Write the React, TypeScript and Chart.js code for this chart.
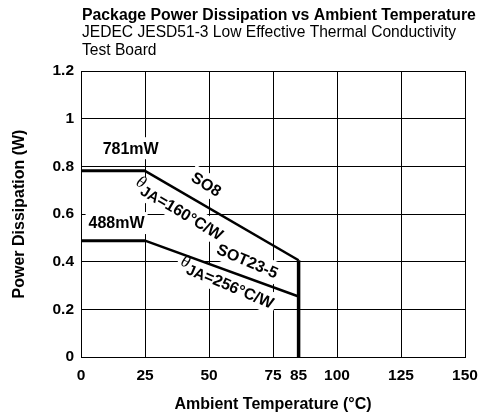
import React, { useEffect, useRef } from 'react';
import { Chart, registerables } from 'chart.js';

Chart.register(...registerables);

// ---- data ----
const xTickValues = [0, 25, 50, 75, 85, 100, 125, 150];
const so8Temps = [0, 25, 85, 85];
const so8Power = [0.781, 0.781, 0.406, 0];
const sotTemps = [0, 25, 85];
const sotPower = [0.488, 0.488, 0.254];
const titleLines = [
  'Package Power Dissipation vs Ambient Temperature',
  'JEDEC JESD51-3 Low Effective Thermal Conductivity',
  'Test Board',
];
const xAxisTitle = 'Ambient Temperature (°C)';
const yAxisTitle = 'Power Dissipation (W)';
const powerLabels = ['781mW', '488mW'];
const packageLabels = ['SO8', 'SOT23-5'];
const thetaSymbol = 'θ';
const thetaSub = 'JA';
const thetaValues = ['=160°C/W', '=256°C/W'];

const FONT = '"Liberation Sans", Arial, Helvetica, sans-serif';

type Part = { text: string; kind: 'main' | 'theta' | 'sub' };
type LabelDef = { x: number; y: number; angle: number; parts: Part[] };

const labelDefs: LabelDef[] = [
  { x: 19.4, y: 0.876, angle: 0, parts: [{ text: powerLabels[0], kind: 'main' }] },
  { x: 13.9, y: 0.562, angle: 0, parts: [{ text: powerLabels[1], kind: 'main' }] },
  { x: 49, y: 0.725, angle: 32, parts: [{ text: packageLabels[0], kind: 'main' }] },
  {
    x: 38.1, y: 0.616, angle: 31,
    parts: [
      { text: thetaSymbol, kind: 'theta' },
      { text: thetaSub, kind: 'sub' },
      { text: thetaValues[0], kind: 'main' },
    ],
  },
  { x: 65, y: 0.403, angle: 23, parts: [{ text: packageLabels[1], kind: 'main' }] },
  {
    x: 56.8, y: 0.306, angle: 23,
    parts: [
      { text: thetaSymbol, kind: 'theta' },
      { text: thetaSub, kind: 'sub' },
      { text: thetaValues[1], kind: 'main' },
    ],
  },
];

function partFont(kind: string) {
  if (kind === 'theta') return 'italic 17px "Liberation Serif", "DejaVu Serif", serif';
  if (kind === 'sub') return 'bold 15px ' + FONT;
  return 'bold 16px ' + FONT;
}

function partDy(kind: string) {
  if (kind === 'theta') return -4;
  if (kind === 'sub') return 2;
  return 1;
}

function drawLabels(chart: any, background: boolean) {
  const ctx = chart.ctx as CanvasRenderingContext2D;
  const xs = chart.scales.x;
  const ys = chart.scales.y;
  labelDefs.forEach((d) => {
    const px = xs.getPixelForValue(d.x);
    const py = ys.getPixelForValue(d.y);
    ctx.save();
    ctx.translate(px, py);
    ctx.rotate((d.angle * Math.PI) / 180);
    const widths = d.parts.map((p) => {
      ctx.font = partFont(p.kind);
      return ctx.measureText(p.text).width;
    });
    const total = widths.reduce((a, b) => a + b, 0);
    if (background) {
      ctx.fillStyle = '#ffffff';
      ctx.fillRect(-total / 2 - 3, -11, total + 6, 22);
    } else {
      ctx.fillStyle = '#000000';
      ctx.textBaseline = 'middle';
      ctx.textAlign = 'left';
      let cx = -total / 2;
      d.parts.forEach((p, i) => {
        ctx.font = partFont(p.kind);
        ctx.fillText(p.text, cx, partDy(p.kind));
        cx += widths[i];
      });
    }
    ctx.restore();
  });
}

const annotPlugin = {
  id: 'annots',
  beforeDatasetsDraw(chart: any) {
    drawLabels(chart, true);
  },
  afterDatasetsDraw(chart: any) {
    drawLabels(chart, false);
  },
  afterDraw(chart: any) {
    const ctx = chart.ctx as CanvasRenderingContext2D;
    ctx.save();
    ctx.fillStyle = '#000';
    ctx.textAlign = 'left';
    ctx.textBaseline = 'alphabetic';
    ctx.font = 'bold 15.8px ' + FONT;
    ctx.fillText(titleLines[0], 82, 20);
    ctx.font = '15.6px ' + FONT;
    ctx.fillText(titleLines[1], 82, 37);
    ctx.fillText(titleLines[2], 82, 55);
    ctx.restore();
  },
};

export default function App() {
  const ref = useRef<HTMLCanvasElement | null>(null);
  useEffect(() => {
    document.body.style.margin = '0';
    const canvas = ref.current;
    if (!canvas) return;
    const toPts = (xs: number[], ys: number[]) => xs.map((x, i) => ({ x, y: ys[i] }));
    const chart = new Chart(canvas, {
      type: 'scatter',
      data: {
        datasets: [
          {
            label: packageLabels[0],
            data: toPts(so8Temps, so8Power),
            showLine: true,
            borderColor: '#000',
            backgroundColor: '#000',
            pointRadius: 0,
            borderWidth: 2.5,
            segment: {
              borderWidth: (c: any) => (c.p0DataIndex === 0 ? 3 : c.p0DataIndex === 2 ? 3.5 : 2.5),
            },
          },
          {
            label: packageLabels[1],
            data: toPts(sotTemps, sotPower),
            showLine: true,
            borderColor: '#000',
            backgroundColor: '#000',
            pointRadius: 0,
            borderWidth: 2.5,
            segment: {
              borderWidth: (c: any) => (c.p0DataIndex === 0 ? 3 : 2.5),
            },
          },
        ],
      },
      options: {
        responsive: false,
        animation: false,
        layout: { padding: { top: 71, right: 16, left: 0, bottom: 0 } },
        plugins: {
          legend: { display: false },
          tooltip: { enabled: false },
          title: { display: false },
        },
        scales: {
          x: {
            type: 'linear',
            min: 0,
            max: 150,
            afterBuildTicks: (scale: any) => {
              scale.ticks = xTickValues.map((v) => ({ value: v }));
            },
            afterFit: (scale: any) => {
              scale.height = 59;
              scale.paddingLeft = 0;
              scale.paddingRight = 0;
            },
            grid: {
              color: (c: any) => (c.tick && c.tick.value === 85 ? 'rgba(0,0,0,0)' : '#000'),
              lineWidth: 1,
              drawTicks: false,
            },
            border: { display: true, color: '#000', width: 1 },
            ticks: {
              color: '#000',
              font: { family: FONT, size: 15.5, weight: 'bold' },
              padding: 9,
              maxRotation: 0,
              autoSkip: false,
              callback: (v: any) => String(v),
            },
            title: {
              display: true,
              text: xAxisTitle,
              color: '#000',
              font: { family: FONT, size: 16, weight: 'bold' },
              padding: { top: 2, bottom: 2 },
            },
          },
          y: {
            type: 'linear',
            min: 0,
            max: 1.2,
            afterFit: (scale: any) => {
              scale.width = 81;
            },
            grid: { color: '#000', lineWidth: 1, drawTicks: false },
            border: { display: true, color: '#000', width: 1 },
            ticks: {
              color: '#000',
              stepSize: 0.2,
              font: { family: FONT, size: 15.5, weight: 'bold' },
              padding: 7,
              callback: (v: any) => String(Math.round(Number(v) * 10) / 10),
            },
            title: {
              display: true,
              text: yAxisTitle,
              color: '#000',
              font: { family: FONT, size: 16, weight: 'bold' },
              padding: { top: 10, bottom: 10 },
            },
          },
        },
      },
      plugins: [annotPlugin],
    } as any);
    return () => chart.destroy();
  }, []);
  return (
    <div style={{ position: 'absolute', left: 0, top: 0, width: 481, height: 416, background: '#fff' }}>
      <canvas ref={ref} width={481} height={416} />
    </div>
  );
}
